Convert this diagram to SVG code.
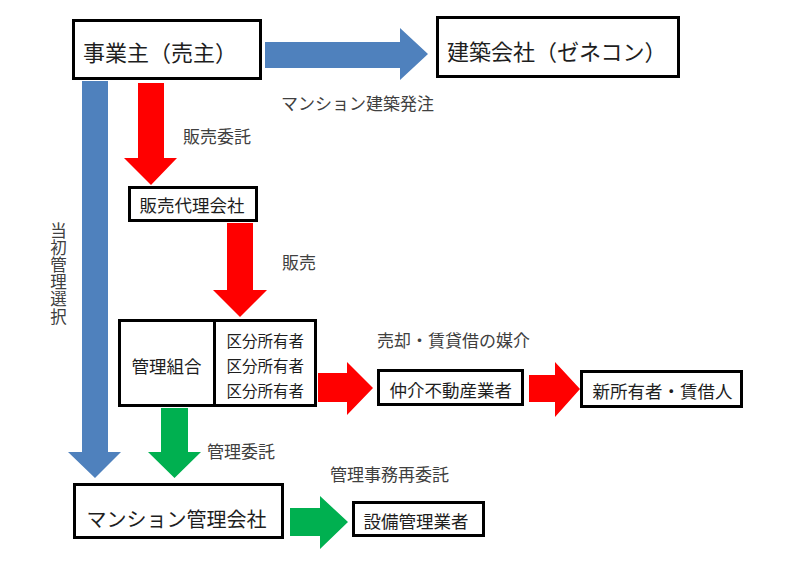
<svg xmlns="http://www.w3.org/2000/svg" width="800" height="580" viewBox="0 0 800 580">
<style>
text { font-family: "Noto Sans CJK JP", "Noto Sans CJK SC", sans-serif; }
.box { fill: #fff; stroke: #000; stroke-width: 3; }
.nt { fill: #1e1e1e; font-size: 17.5px; }
.big { font-size: 22px; }
.mid { font-size: 20px; }
.small { font-size: 15.5px; }
.lbl { fill: #404040; font-size: 17px; }
.vert { writing-mode: vertical-rl; font-size: 16.5px; letter-spacing: 0.7px; }
.blue { fill: #4F81BD; }
.red { fill: #FF0000; }
.green { fill: #00B050; }
</style>
<rect width="800" height="580" fill="#fff"/>
<g id="connectors">
  <polygon class="blue" points="265,42 400,42 400,28 428,54 400,80 400,68 265,68"/>
  <polygon class="blue" points="82,81 108,81 108,452 121,452 95,478 68,452 82,452"/>
  <polygon class="red" points="138,83 164,83 164,158 177,158 151,185 124,158 138,158"/>
  <polygon class="red" points="227,223 253,223 253,290 267,290 240,317 213,290 227,290"/>
  <polygon class="red" points="318,373 347,373 347,362 373,388 347,415 347,402 318,402"/>
  <polygon class="red" points="529,375 555,375 555,362 580,389 555,417 555,402 529,402"/>
  <polygon class="green" points="161,408 188,408 188,452 201,452 174.5,478 148,452 161,452"/>
  <polygon class="green" points="290,508 320,508 320,496 348,522 320,549 320,536 290,536"/>
</g>
<g id="labels">
  <text class="lbl" x="281" y="110">マンション建築発注</text>
  <text class="lbl" x="183" y="143">販売委託</text>
  <text class="lbl" x="282" y="269">販売</text>
  <text class="lbl" x="377" y="347">売却・賃貸借の媒介</text>
  <text class="lbl" x="207" y="458">管理委託</text>
  <text class="lbl" x="330" y="481">管理事務再委託</text>
  <text class="lbl vert" x="58.5" y="222">当初管理選択</text>
</g>
<g id="node-jigyonushi">
  <rect class="box" x="73.5" y="20.5" width="187" height="58"/>
  <text class="nt big" x="83" y="61">事業主（売主）</text>
</g>
<g id="node-kensetsu">
  <rect class="box" x="437.5" y="17.5" width="241" height="59"/>
  <text class="nt big" x="447" y="59.5">建築会社（ゼネコン）</text>
</g>
<g id="node-hanbai-dairi">
  <rect class="box" x="129.5" y="187.5" width="127" height="33"/>
  <text class="nt" x="139.5" y="212">販売代理会社</text>
</g>
<g id="node-kanri-kumiai">
  <rect class="box" x="119.5" y="320.5" width="95" height="85"/>
  <text class="nt" x="131.5" y="372.5">管理組合</text>
</g>
<g id="node-kubun">
  <rect class="box" x="214.5" y="320.5" width="101" height="85"/>
  <text class="nt small" x="226.5" y="347">区分所有者</text>
  <text class="nt small" x="226.5" y="372">区分所有者</text>
  <text class="nt small" x="226.5" y="397">区分所有者</text>
</g>
<g id="node-chukai">
  <rect class="box" x="378.5" y="370.5" width="144" height="34"/>
  <text class="nt" x="389.5" y="397">仲介不動産業者</text>
</g>
<g id="node-shin-shoyusha">
  <rect class="box" x="581.5" y="371.5" width="160" height="35"/>
  <text class="nt" x="592.5" y="398">新所有者・賃借人</text>
</g>
<g id="node-kanri-gaisha">
  <rect class="box" x="74.5" y="484.5" width="208" height="53"/>
  <text class="nt mid" x="86.5" y="527">マンション管理会社</text>
</g>
<g id="node-setsubi">
  <rect class="box" x="353.5" y="502.5" width="130" height="33"/>
  <text class="nt" x="363.5" y="528">設備管理業者</text>
</g>
</svg>
